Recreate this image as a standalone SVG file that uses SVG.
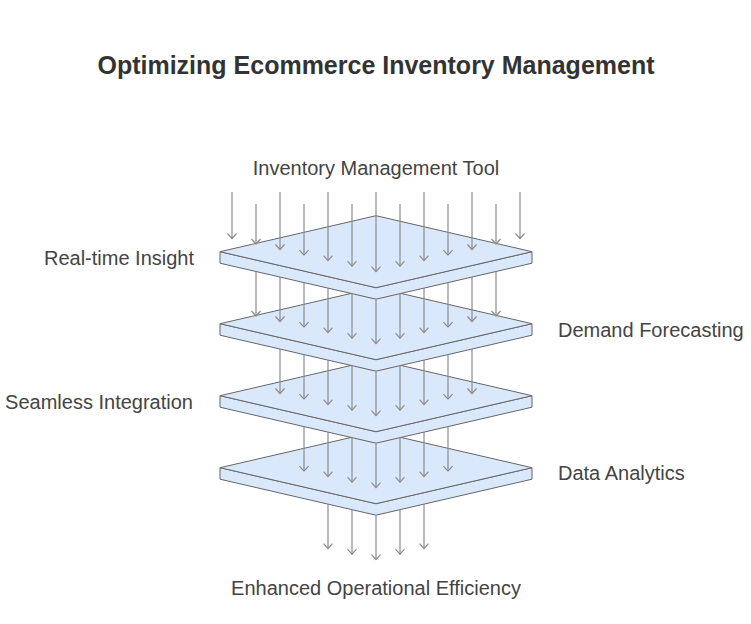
<svg xmlns="http://www.w3.org/2000/svg" width="751" height="624" viewBox="0 0 751 624">
  <defs>
    <style>
      .plate { fill: #dae8fc; stroke: #666666; stroke-width: 1; stroke-linejoin: round; }
      .arrow { fill: none; stroke: #8c8c8c; stroke-width: 1.2; marker-end: url(#ah); }
      .label { font-family: "Liberation Sans", Arial, sans-serif; font-size: 20px; fill: #444444; }
      .title { font-family: "Liberation Sans", Arial, sans-serif; font-size: 25px; font-weight: bold; fill: #333333; }
    </style>
    <marker id="ah" viewBox="-7 -6 8 12" markerWidth="8" markerHeight="12" refX="0" refY="0" orient="auto" markerUnits="userSpaceOnUse">
      <path d="M-5,-4.5 L0,0 L-5,4.5" fill="none" stroke="#8c8c8c" stroke-width="1.2"/>
    </marker>
  </defs>
  <rect width="751" height="624" fill="#ffffff"/>

  <text class="title" x="376" y="74" text-anchor="middle">Optimizing Ecommerce Inventory Management</text>

  <g id="input-label">
    <text class="label" x="376" y="175" text-anchor="middle">Inventory Management Tool</text>
  </g>

  <g id="layer-data-analytics">
    <path class="plate" d="M220,467.7 L376,503.7 L532,467.7 L532,479.2 L376,515.2 L220,479.2 Z"/>
    <path class="plate" d="M376,431.7 L532,467.7 L376,503.7 L220,467.7 Z"/>
    <text class="label" x="558" y="480" text-anchor="start">Data Analytics</text>
  </g>

  <g id="layer-seamless-integration">
    <path class="plate" d="M220,395.7 L376,431.7 L532,395.7 L532,407.2 L376,443.2 L220,407.2 Z"/>
    <path class="plate" d="M376,359.7 L532,395.7 L376,431.7 L220,395.7 Z"/>
    <text class="label" x="193" y="409" text-anchor="end">Seamless Integration</text>
  </g>

  <g id="layer-demand-forecasting">
    <path class="plate" d="M220,323.7 L376,359.7 L532,323.7 L532,335.2 L376,371.2 L220,335.2 Z"/>
    <path class="plate" d="M376,287.7 L532,323.7 L376,359.7 L220,323.7 Z"/>
    <text class="label" x="558" y="337" text-anchor="start">Demand Forecasting</text>
  </g>

  <g id="layer-real-time-insight">
    <path class="plate" d="M220,251.7 L376,287.7 L532,251.7 L532,263.2 L376,299.2 L220,263.2 Z"/>
    <path class="plate" d="M376,215.7 L532,251.7 L376,287.7 L220,251.7 Z"/>
    <text class="label" x="194" y="265" text-anchor="end">Real-time Insight</text>
  </g>

  <g id="output-label">
    <text class="label" x="376" y="595" text-anchor="middle">Enhanced Operational Efficiency</text>
  </g>

  <g id="connectors">
    <!-- input into layer 1 -->
    <path class="arrow" d="M232,192 L232,238.5"/>
    <path class="arrow" d="M256,204 L256,244"/>
    <path class="arrow" d="M280,192 L280,249.5"/>
    <path class="arrow" d="M304,204 L304,255.1"/>
    <path class="arrow" d="M328,192 L328,260.6"/>
    <path class="arrow" d="M352,204 L352,266.2"/>
    <path class="arrow" d="M376,192 L376,271.7"/>
    <path class="arrow" d="M400,204 L400,266.2"/>
    <path class="arrow" d="M424,192 L424,260.6"/>
    <path class="arrow" d="M448,204 L448,255.1"/>
    <path class="arrow" d="M472,192 L472,249.5"/>
    <path class="arrow" d="M496,204 L496,244"/>
    <path class="arrow" d="M520,192 L520,238.5"/>
    <!-- layer 1 to layer 2 -->
    <path class="arrow" d="M256,271.5 L256,316"/>
    <path class="arrow" d="M280,277 L280,321.5"/>
    <path class="arrow" d="M304,282.6 L304,327.1"/>
    <path class="arrow" d="M328,288.1 L328,332.6"/>
    <path class="arrow" d="M352,293.7 L352,338.2"/>
    <path class="arrow" d="M376,299.2 L376,343.7"/>
    <path class="arrow" d="M400,293.7 L400,338.2"/>
    <path class="arrow" d="M424,288.1 L424,332.6"/>
    <path class="arrow" d="M448,282.6 L448,327.1"/>
    <path class="arrow" d="M472,277 L472,321.5"/>
    <path class="arrow" d="M496,271.5 L496,316"/>
    <!-- layer 2 to layer 3 -->
    <path class="arrow" d="M280,349 L280,393.5"/>
    <path class="arrow" d="M304,354.6 L304,399.1"/>
    <path class="arrow" d="M328,360.1 L328,404.6"/>
    <path class="arrow" d="M352,365.7 L352,410.2"/>
    <path class="arrow" d="M376,371.2 L376,415.7"/>
    <path class="arrow" d="M400,365.7 L400,410.2"/>
    <path class="arrow" d="M424,360.1 L424,404.6"/>
    <path class="arrow" d="M448,354.6 L448,399.1"/>
    <path class="arrow" d="M472,349 L472,393.5"/>
    <!-- layer 3 to layer 4 -->
    <path class="arrow" d="M304,426.6 L304,471.1"/>
    <path class="arrow" d="M328,432.1 L328,476.6"/>
    <path class="arrow" d="M352,437.7 L352,482.2"/>
    <path class="arrow" d="M376,443.2 L376,487.7"/>
    <path class="arrow" d="M400,437.7 L400,482.2"/>
    <path class="arrow" d="M424,432.1 L424,476.6"/>
    <path class="arrow" d="M448,426.6 L448,471.1"/>
    <!-- layer 4 to output -->
    <path class="arrow" d="M328,504.1 L328,548.6"/>
    <path class="arrow" d="M352,509.7 L352,554.2"/>
    <path class="arrow" d="M376,515.2 L376,559.7"/>
    <path class="arrow" d="M400,509.7 L400,554.2"/>
    <path class="arrow" d="M424,504.1 L424,548.6"/>
  </g>
</svg>
